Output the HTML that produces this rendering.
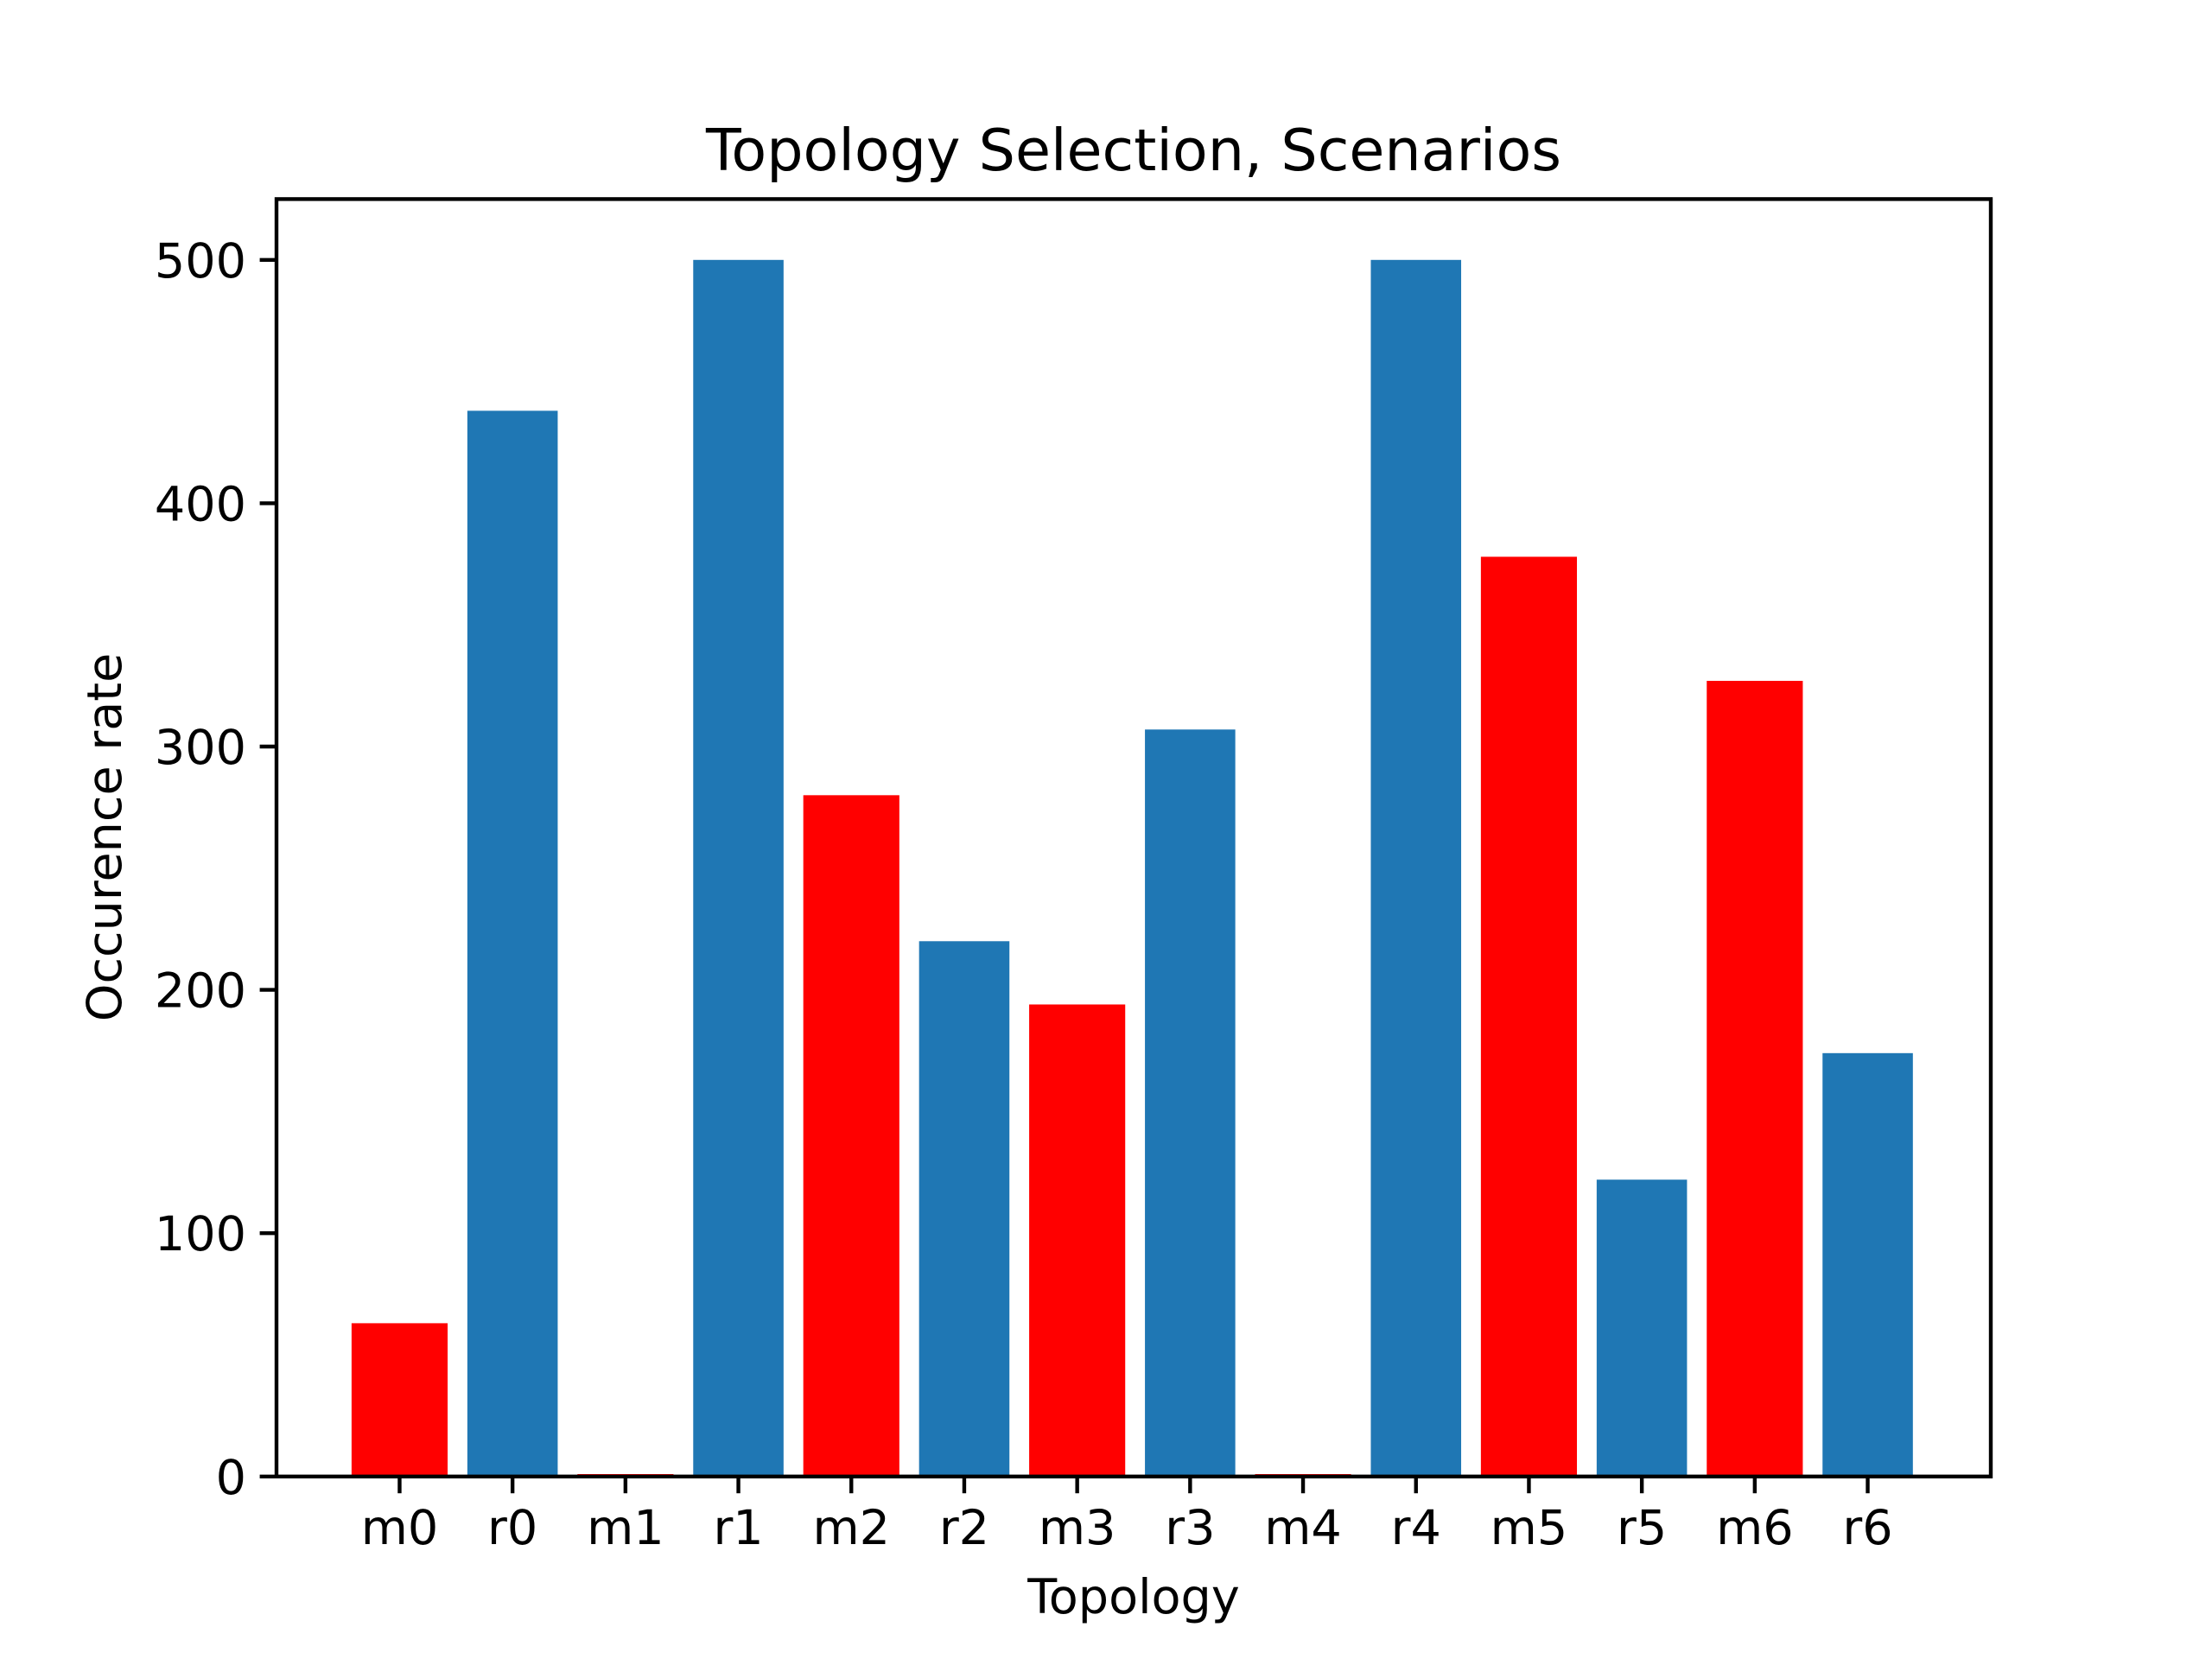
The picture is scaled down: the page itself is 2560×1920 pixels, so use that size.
<!DOCTYPE html>
<html><head><meta charset="utf-8"><style>
html,body{margin:0;padding:0;background:#fff;}
svg{display:block;}
text{font-family:"DejaVu Sans","Liberation Sans",sans-serif;fill:#000;}
</style></head><body>
<svg id="chart" width="2560" height="1920" viewBox="0 0 2560 1920" xmlns="http://www.w3.org/2000/svg">
<rect width="2560" height="1920" fill="#fff"/>
<text x="1312" y="197" font-size="66.7" text-anchor="middle">Topology Selection, Scenarios</text>
<g id="bars"></g>
<g id="xticks"></g>
<g id="yticks"></g>
<rect x="320" y="230.4" width="1984" height="1478.4" fill="none" stroke="#000" stroke-width="4.4"/>
<text x="1312" y="1867" font-size="55.6" text-anchor="middle">Topology</text>
<text transform="translate(140,969) rotate(-90)" font-size="55.6" text-anchor="middle">Occurence rate</text>
</svg>
<script>
const categories = ["m0","r0","m1","r1","m2","r2","m3","r3","m4","r4","m5","r5","m6","r6"];
const values = [63,438,1,500,280,220,194,307,1,500,378,122,327,174];
const barColors = ["red","#1f77b4","red","#1f77b4","red","#1f77b4","red","#1f77b4","red","#1f77b4","red","#1f77b4","red","#1f77b4"];
const yTicks = [0,100,200,300,400,500];

const NS="http://www.w3.org/2000/svg";
const L=320,R=2304,T=230.4,B=1708.8;
const xmin=-1.09,xmax=categories.length-1+1.09,ymax=525;
const xs=v=>L+(v-xmin)/(xmax-xmin)*(R-L);
const ys=v=>B-v/ymax*(B-T);
const bw=0.8*(R-L)/(xmax-xmin);
const bars=document.getElementById('bars'),xt=document.getElementById('xticks'),yt=document.getElementById('yticks');
function mk(tag,attrs){const e=document.createElementNS(NS,tag);for(const k in attrs)e.setAttribute(k,attrs[k]);return e;}
categories.forEach((c,i)=>{
  const w = barColors[i]==="red" ? bw+6.6 : bw;
  const r=mk('rect',{x:xs(i)-w/2,y:ys(values[i]),width:w,height:B-ys(values[i]),fill:barColors[i]});
  
  
  bars.appendChild(r);
  const t=mk('line',{x1:xs(i),x2:xs(i),y1:B,y2:B+19.4,stroke:'#000','stroke-width':4.4});
  
  
  xt.appendChild(t);
  const tx=mk('text',{x:xs(i),y:B+78,'font-size':55.6,'text-anchor':'middle'});
  tx.textContent=c;
  
  
  xt.appendChild(tx);
});
yTicks.forEach(v=>{
  const t=mk('line',{x1:L-19.4,x2:L,y1:ys(v),y2:ys(v),stroke:'#000','stroke-width':4.4});
  
  
  yt.appendChild(t);
  const tx=mk('text',{x:L-35,y:ys(v)+20,'font-size':55.6,'text-anchor':'end'});
  tx.textContent=v;
  
  
  yt.appendChild(tx);
});
</script>
</body></html>
